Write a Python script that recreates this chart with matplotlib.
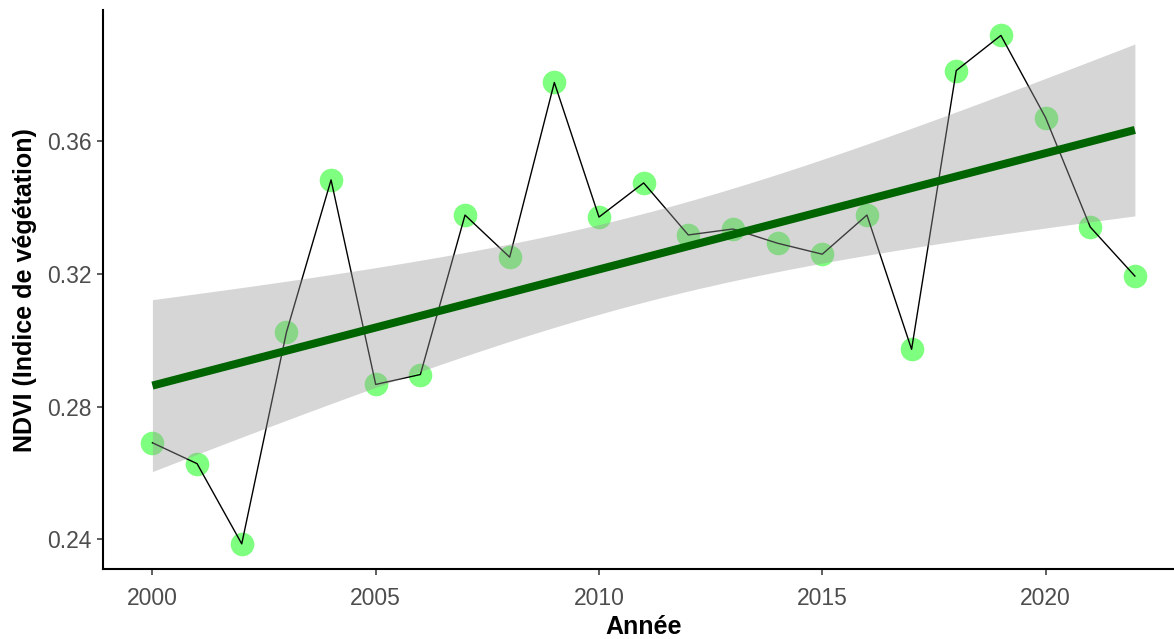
import matplotlib
matplotlib.use("Agg")
import matplotlib.pyplot as plt
import numpy as np

# Annual mean NDVI
years = np.arange(2000, 2023)
ndvi = [0.2691, 0.2628, 0.2386, 0.3024, 0.3484, 0.2867, 0.2897, 0.3378,
        0.3251, 0.3778, 0.3372, 0.3475, 0.3318, 0.3336, 0.3293, 0.3260,
        0.3378, 0.2973, 0.3814, 0.3920, 0.3672, 0.3342, 0.3194]
x_ticks = [2000, 2005, 2010, 2015, 2020]
y_ticks = [0.24, 0.28, 0.32, 0.36]

plt.rcParams['font.family'] = ['Liberation Sans', 'DejaVu Sans']

# linear fit with 95 % confidence band (like geom_smooth(method = "lm"))
x = years.astype(float)
y = np.array(ndvi)
n = len(x)
slope, icpt = np.polyfit(x, y, 1)
resid = y - (icpt + slope * x)
s = np.sqrt(np.sum(resid ** 2) / (n - 2))
t_crit = 2.0796  # t(0.975, df = 21)
xg = np.linspace(x.min(), x.max(), 80)
yg = icpt + slope * xg
se = s * np.sqrt(1.0 / n + (xg - x.mean()) ** 2 / np.sum((x - x.mean()) ** 2))
lo = yg - t_crit * se
hi = yg + t_crit * se

W, H = 1174, 639
fig = plt.figure(figsize=(W / 100, H / 100), dpi=100)
ax = fig.add_axes([103.3 / W, (H - 569.3) / H, (1184 - 103.3) / W, (569.3 - 10) / H])

ax.scatter(years, ndvi, s=17 ** 2, color="#00ff00", alpha=0.5, linewidths=0, zorder=1)
ax.plot(years, ndvi, color="black", lw=1.0, zorder=2)
ax.fill_between(xg, lo, hi, color="#999999", alpha=0.4, linewidth=0, zorder=3)
ax.plot(xg, yg, color="#006400", lw=5.8, solid_capstyle="butt", zorder=4)

# ggplot-style 5 % expansion
xr = x.max() - x.min()
ax.set_xlim(x.min() - 0.05 * xr, x.max() + 0.05 * xr)
ymin = min(y.min(), lo.min())
ymax = max(y.max(), hi.max())
yr = ymax - ymin
ax.set_ylim(ymin - 0.05 * yr, ymax + 0.05 * yr)

ax.set_xticks(x_ticks)
ax.set_yticks(y_ticks)
ax.set_yticklabels(["%.2f" % v for v in y_ticks])

for side in ["top", "right"]:
    ax.spines[side].set_visible(False)
for side in ["left", "bottom"]:
    ax.spines[side].set_linewidth(1.5)
    ax.spines[side].set_color("black")

ax.tick_params(axis="both", length=4.5, width=1.1, color="#333333",
               labelsize=16.5, labelcolor="#4D4D4D")
ax.tick_params(axis="x", pad=8)
ax.tick_params(axis="y", pad=4)

ax.set_xlabel("Année", fontsize=18, fontweight="bold", labelpad=3.5)
ax.set_ylabel("NDVI (Indice de végétation)", fontsize=18, fontweight="bold", labelpad=7)

fig.savefig("out.png", dpi=100)
